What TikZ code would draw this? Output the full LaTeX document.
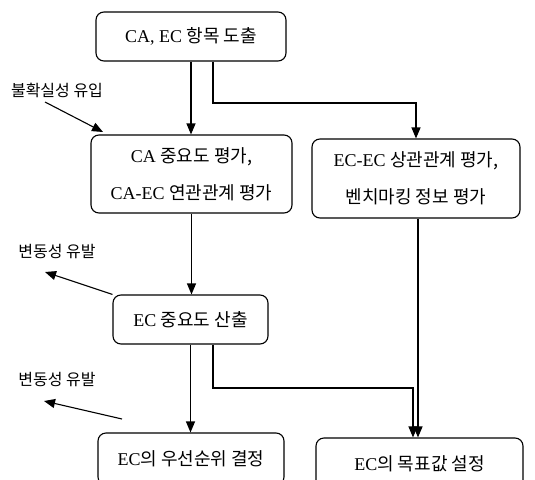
\documentclass[tikz,border=0pt]{standalone}
\usepackage{fontspec}
\setmainfont{Liberation Serif}
\newfontfamily\kr{Noto Sans CJK KR}
\usetikzlibrary{arrows.meta}
\newcommand\K[1]{{\kr #1}}
\begin{document}
\begin{tikzpicture}[x=1pt,y=-1pt,
  box/.style={draw,line width=1.1pt,rounded corners=8pt,inner sep=0pt,align=center,font=\fontsize{18}{37}\selectfont},
  arr/.style={line width=1.1pt,-{Triangle[length=11pt,width=9pt]}},
  side/.style={font=\fontsize{16}{18}\selectfont\kr,inner sep=0pt}]
\useasboundingbox (0,0) rectangle (535,479);
\clip (0,0) rectangle (535,479);
\node[box,minimum width=190pt,minimum height=49pt] (b1) at (191,36.5) {CA, EC \K{항목 도출}};
\node[box,minimum width=201pt,minimum height=78pt] (b2) at (191.5,174) {CA \K{중요도 평가,}\\CA-EC \K{연관관계 평가}};
\node[box,minimum width=208pt,minimum height=79pt] (b3) at (416,178.5) {EC-EC \K{상관관계 평가,}\\\K{벤치마킹 정보 평가}};
\node[box,minimum width=155pt,minimum height=49pt] (b4) at (190.5,319.5) {EC \K{중요도 산출}};
\node[box,minimum width=186pt,minimum height=52pt] (b5) at (191,459) {EC\K{의 우선순위 결정}};
\node[box,minimum width=207pt,minimum height=52pt] (b6) at (419.5,464) {EC\K{의 목표값 설정}};
\node[side] (l1) at (57,90) {불확실성 유입};
\node[side] (l2) at (57,252) {변동성 유발};
\node[side] (l3) at (57,380) {변동성 유발};
\coordinate (k1) at (213,103);
\coordinate (k2) at (213,388);
\coordinate (u1) at (45,102);
\coordinate (u1e) at (103,132);
\coordinate (v1) at (45,272);
\coordinate (v2s) at (122,419);
\coordinate (v2) at (44,401);
\draw[arr] (b1.south) -- (b1.south |- b2.north);
\draw[arr] (b1.south -| k1) -- (k1) -| (b3.north);
\draw[arr] (b2.south) -- (b2.south |- b4.north);
\draw[arr] ([xshift=2pt]b3.south) -- ([xshift=2pt]b3.south |- b6.north);
\draw[arr] (b4.south -| k2) -- (k2) -| ([xshift=-6.5pt]b6.north);
\draw[arr] (b4.south) -- (b4.south |- b5.north);
\draw[arr] (u1) -- (u1e);
\draw[arr] (b4.north west) -- (v1);
\draw[arr] (v2s) -- (v2);
\end{tikzpicture}
\end{document}
